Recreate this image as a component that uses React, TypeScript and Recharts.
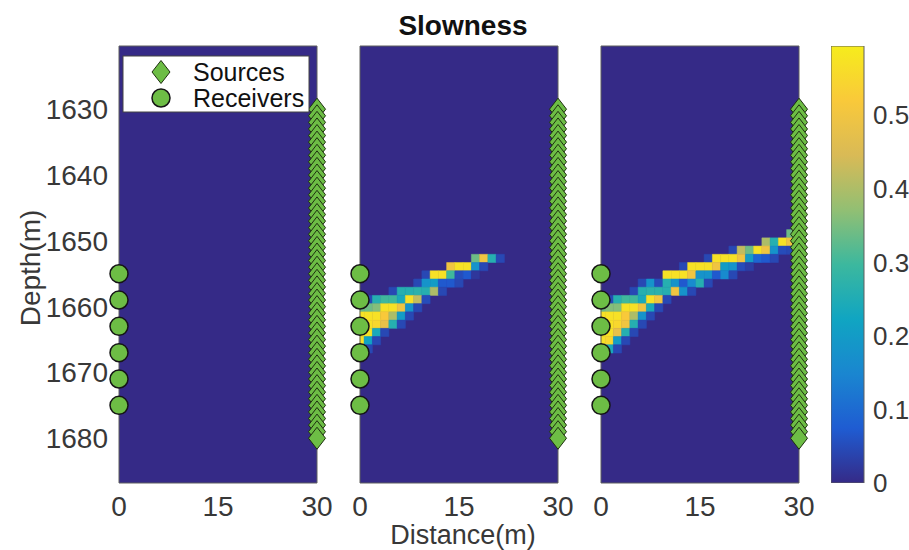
import React from 'react';
import { ComposedChart, BarChart, Bar, XAxis, YAxis, Scatter, ReferenceArea } from 'recharts';

// acquisition geometry (m)
const sourceDepths = [
  1630, 1631, 1632, 1633, 1634, 1635, 1636, 1637, 1638, 1639, 1640, 1641, 1642, 1643, 1644, 1645, 1646,
  1647, 1648, 1649, 1650, 1651, 1652, 1653, 1654, 1655, 1656, 1657, 1658, 1659, 1660, 1661, 1662, 1663,
  1664, 1665, 1666, 1667, 1668, 1669, 1670, 1671, 1672, 1673, 1674, 1675, 1676, 1677, 1678, 1679, 1680,
];
const receiverDepths = [1655, 1659, 1663, 1667, 1671, 1675];
const SOURCE_X = 30;
const RECEIVER_X = 0;

const distanceTicks = [0, 15, 30];
const depthTicks = [1630, 1640, 1650, 1660, 1670, 1680];
const slownessTicks = [0, 0.1, 0.2, 0.3, 0.4, 0.5];
const SLOWNESS_MAX = 0.594;
const DEPTH_MIN = 1620.4;
const DEPTH_MAX = 1686.8;
const DIST_MAX = 30;

// model grid: 1.25 m cells, columns centred on multiples of 1.25 m,
// row 0 starts at ROW0_TOP; each entry lists the non-zero cells of one row
const CELL = 1.25;
const ROW0_TOP = 1652.05;

type CellRow = { row: number; col: number; v: number[] };

const panel1Rows: CellRow[] = [];

const panel2Rows: CellRow[] = [
  { row: 0, col: 14, v: [0.34, 0.5, 0.26, 0.045] },
  { row: 1, col: 11, v: [0.5, 0.57, 0.57, 0.18, 0.045] },
  { row: 2, col: 8, v: [0.045, 0.57, 0.57, 0.3, 0.05, 0.07, 0.02] },
  { row: 3, col: 7, v: [0.045, 0.18, 0.2, 0.07, 0.07, 0.045] },
  { row: 4, col: 4, v: [0.045, 0.26, 0.26, 0.27, 0.26, 0.4, 0.045] },
  { row: 5, col: 1, v: [0.045, 0.26, 0.3, 0.3, 0.24, 0.57, 0.42, 0.05] },
  { row: 6, col: 0, v: [0.34, 0.34, 0.36, 0.57, 0.57, 0.5, 0.18, 0.045] },
  { row: 7, col: 0, v: [0.57, 0.57, 0.57, 0.52, 0.4, 0.2, 0.045] },
  { row: 8, col: 0, v: [0.57, 0.57, 0.55, 0.48, 0.26, 0.045] },
  { row: 9, col: 0, v: [0.57, 0.57, 0.24, 0.045] },
  { row: 10, col: 0, v: [0.57, 0.22, 0.045] },
  { row: 11, col: 0, v: [0.18, 0.045] },
];

const panel3Rows: CellRow[] = [
  { row: -3, col: 23, v: [0.34] },
  { row: -2, col: 20, v: [0.4, 0.26, 0.57, 0.5] },
  { row: -1, col: 16, v: [0.045, 0.42, 0.34, 0.57, 0.5, 0.18, 0.05, 0.045] },
  { row: 0, col: 13, v: [0.045, 0.57, 0.57, 0.57, 0.5, 0.2, 0.09, 0.07, 0.045] },
  { row: 1, col: 10, v: [0.045, 0.57, 0.57, 0.57, 0.5, 0.2, 0.18, 0.05, 0.03] },
  { row: 2, col: 8, v: [0.57, 0.57, 0.57, 0.5, 0.18, 0.18, 0.07, 0.16, 0.045] },
  { row: 3, col: 5, v: [0.045, 0.18, 0.05, 0.26, 0.18, 0.07, 0.16, 0.26, 0.045] },
  { row: 4, col: 4, v: [0.045, 0.26, 0.27, 0.27, 0.26, 0.5, 0.18, 0.045] },
  { row: 5, col: 1, v: [0.045, 0.26, 0.3, 0.3, 0.24, 0.57, 0.5, 0.045] },
  { row: 6, col: 0, v: [0.34, 0.36, 0.36, 0.57, 0.57, 0.5, 0.24, 0.045] },
  { row: 7, col: 0, v: [0.57, 0.57, 0.57, 0.52, 0.4, 0.18, 0.045] },
  { row: 8, col: 0, v: [0.57, 0.57, 0.55, 0.5, 0.26, 0.045] },
  { row: 9, col: 0, v: [0.57, 0.57, 0.48, 0.26, 0.045] },
  { row: 10, col: 0, v: [0.57, 0.55, 0.2, 0.045] },
  { row: 11, col: 0, v: [0.45, 0.24, 0.045] },
];

// single bar spanning the full colour range
const colorbarData = [{ name: 'slowness', top: SLOWNESS_MAX }];

const FONT = '"Liberation Sans", Arial, Helvetica, sans-serif';
const TEXT = '#383838';
const MARKER_GREEN = '#6dbd45';

// parula-style colour ramp, low to high
const PARULA = ['#352a87', '#1f5cd2', '#1a86d0', '#10a5c2', '#3cb89e', '#92bf73', '#d9ba56', '#f9c93a', '#f6ec1c'];

function hexToRgb(h: string) {
  return [1, 3, 5].map((i) => parseInt(h.slice(i, i + 2), 16));
}

function parula(v: number) {
  const t = Math.min(1, Math.max(0, v / SLOWNESS_MAX)) * (PARULA.length - 1);
  const i = Math.min(PARULA.length - 2, Math.floor(t));
  const f = t - i;
  const a = hexToRgb(PARULA[i]);
  const b = hexToRgb(PARULA[i + 1]);
  const c = a.map((x, k) => Math.round(x + (b[k] - x) * f));
  return `rgb(${c[0]},${c[1]},${c[2]})`;
}

function expandCells(rows: CellRow[]) {
  const out: { x1: number; x2: number; y1: number; y2: number; v: number }[] = [];
  rows.forEach((r) => {
    r.v.forEach((v, i) => {
      const xc = (r.col + i) * CELL;
      const y1 = ROW0_TOP + r.row * CELL;
      out.push({
        x1: Math.max(0, xc - CELL / 2),
        x2: Math.min(DIST_MAX, xc + CELL / 2),
        y1,
        y2: y1 + CELL,
        v,
      });
    });
  });
  return out;
}

const sources = sourceDepths.map((d) => ({ x: SOURCE_X, y: d }));
const receivers = receiverDepths.map((d) => ({ x: RECEIVER_X, y: d }));

function diamondPath(cx: number, cy: number, hw: number, hh: number) {
  return `M${cx},${cy - hh}L${cx + hw},${cy}L${cx},${cy + hh}L${cx - hw},${cy}Z`;
}

const SourceMarker = (p: any) => (
  <path d={diamondPath(p.cx, p.cy, 8.5, 11)} fill={MARKER_GREEN} stroke="#1e3010" strokeWidth={1} />
);

const ReceiverMarker = (p: any) => (
  <circle cx={p.cx} cy={p.cy} r={9} fill={MARKER_GREEN} stroke="#151515" strokeWidth={1.5} />
);

const ColorbarShape = (p: any) => (
  <g>
    <defs>
      <linearGradient id="parulaBar" x1="0" y1="1" x2="0" y2="0">
        {PARULA.map((c, i) => (
          <stop key={c} offset={`${(i / (PARULA.length - 1)) * 100}%`} stopColor={c} />
        ))}
      </linearGradient>
    </defs>
    <rect x={p.x} y={p.y} width={p.width} height={p.height} fill="url(#parulaBar)" stroke="#5f5f5f" strokeWidth={1} />
  </g>
);

const PLOT_W = 198;
const PLOT_TOP = 46;
const PLOT_BOTTOM = 483;
const CHART_H = 550;
const TICK_FONT = { fontSize: 28, fill: TEXT, fontFamily: FONT };

function Panel({ plotLeft, rows, first }: { plotLeft: number; rows: CellRow[]; first: boolean }) {
  const padLeft = first ? 0 : 40;
  const yWidth = first ? plotLeft : 0;
  const chartLeft = first ? 0 : plotLeft - padLeft;
  const width = (first ? plotLeft : padLeft) + PLOT_W + 22;
  const cells = expandCells(rows);
  return (
    <div style={{ position: 'absolute', left: chartLeft, top: 0 }}>
      <ComposedChart
        width={width}
        height={CHART_H}
        margin={{ top: PLOT_TOP, right: 22, bottom: 0, left: padLeft }}
      >
        <XAxis
          type="number"
          dataKey="x"
          domain={[0, DIST_MAX]}
          ticks={distanceTicks}
          interval={0}
          tickLine={false}
          axisLine={false}
          height={CHART_H - PLOT_BOTTOM}
          tickMargin={7}
          tick={TICK_FONT}
        />
        <YAxis
          type="number"
          dataKey="y"
          domain={[DEPTH_MIN, DEPTH_MAX]}
          reversed
          hide={!first}
          width={yWidth}
          ticks={depthTicks}
          interval={0}
          tickLine={false}
          axisLine={false}
          tickMargin={5}
          tick={TICK_FONT}
        />
        <ReferenceArea
          x1={0}
          x2={DIST_MAX}
          y1={DEPTH_MIN}
          y2={DEPTH_MAX}
          fill={parula(0)}
          fillOpacity={1}
          stroke="none"
        />
        {cells.map((c, i) => (
          <ReferenceArea
            key={i}
            x1={c.x1}
            x2={c.x2}
            y1={c.y1}
            y2={c.y2}
            fill={parula(c.v)}
            fillOpacity={1}
            stroke={parula(c.v)}
            strokeWidth={0.5}
          />
        ))}
        <ReferenceArea
          x1={0}
          x2={DIST_MAX}
          y1={DEPTH_MIN}
          y2={DEPTH_MAX}
          fill="none"
          stroke="#5f5f5f"
          strokeWidth={1}
        />
        <Scatter data={sources} shape={SourceMarker} isAnimationActive={false} />
        <Scatter data={receivers} shape={ReceiverMarker} isAnimationActive={false} />
      </ComposedChart>
    </div>
  );
}

function Colorbar({ plotLeft }: { plotLeft: number }) {
  const barW = 33;
  const axisW = 909 - plotLeft - barW;
  return (
    <div style={{ position: 'absolute', left: plotLeft, top: 0 }}>
      <BarChart
        width={barW + axisW}
        height={CHART_H}
        data={colorbarData}
        margin={{ top: PLOT_TOP, right: 0, bottom: CHART_H - PLOT_BOTTOM, left: 0 }}
        barCategoryGap={0}
      >
        <XAxis dataKey="name" hide />
        <YAxis
          type="number"
          orientation="right"
          domain={[0, SLOWNESS_MAX]}
          allowDataOverflow
          ticks={slownessTicks}
          interval={0}
          width={axisW}
          tickLine={false}
          axisLine={false}
          tickMargin={3}
          tickFormatter={(v: number) => (v === 0 ? '0' : v.toFixed(1))}
          tick={{ fontSize: 26, fill: TEXT, fontFamily: FONT }}
        />
        <Bar dataKey="top" shape={ColorbarShape} isAnimationActive={false} />
      </BarChart>
    </div>
  );
}

export default function App() {
  return (
    <div
      style={{
        position: 'absolute',
        left: 0,
        top: 0,
        width: 909,
        height: 550,
        background: '#fff',
        fontFamily: FONT,
      }}
    >
      <Panel plotLeft={119} rows={panel1Rows} first />
      <Panel plotLeft={360} rows={panel2Rows} first={false} />
      <Panel plotLeft={601} rows={panel3Rows} first={false} />
      <Colorbar plotLeft={831} />
      <svg
        width={909}
        height={550}
        style={{ position: 'absolute', left: 0, top: 0, pointerEvents: 'none' }}
        fontFamily={FONT}
      >
        <text x={463} y={35} textAnchor="middle" fontSize={28} fontWeight="bold" fill="#111">
          Slowness
        </text>
        <text x={463} y={544} textAnchor="middle" fontSize={27} fill={TEXT}>
          Distance(m)
        </text>
        <text transform="translate(40,268) rotate(-90)" textAnchor="middle" fontSize={28} fill={TEXT}>
          Depth(m)
        </text>
        {/* legend */}
        <rect x={123} y={56} width={186} height={56} fill="#fff" stroke="#444" strokeWidth={1} />
        <path d={diamondPath(161, 72, 9, 11.5)} fill={MARKER_GREEN} stroke="#1e3010" strokeWidth={1} />
        <circle cx={161} cy={98} r={9} fill={MARKER_GREEN} stroke="#151515" strokeWidth={1.5} />
        <text x={193} y={81} fontSize={25} fill="#111">
          Sources
        </text>
        <text x={193} y={107} fontSize={25} fill="#111">
          Receivers
        </text>
      </svg>
    </div>
  );
}
